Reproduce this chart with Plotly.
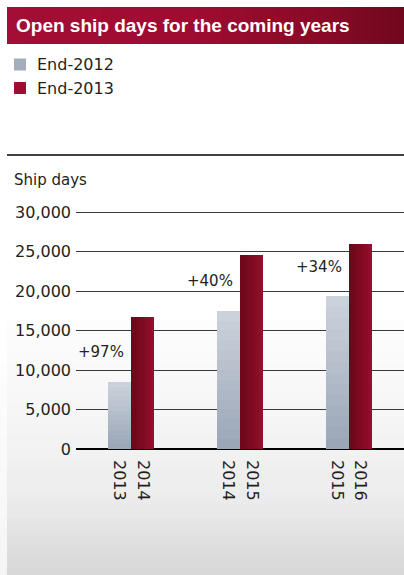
import plotly.graph_objects as go

# ---- data -------------------------------------------------------------
series_names = ["End-2012", "End-2013"]
years_end2012 = ["2013", "2014", "2015"]
years_end2013 = ["2014", "2015", "2016"]
open_days_end2012 = [8500, 17500, 19300]
open_days_end2013 = [16750, 24500, 25900]
y_ticks = [0, 5000, 10000, 15000, 20000, 25000, 30000]

title_text = "Open ship days for the coming years"
axis_title = "Ship days"

# ---- geometry / style -------------------------------------------------
W, H = 404, 575
BAR_W = 0.215
groups = list(range(len(open_days_end2012)))
TEXT = "#231f20"
FONT = "DejaVu Sans"


def px_x(p):
    return p / W


def px_y(p):
    return 1 - p / H


def lerp_color(stops, t):
    for (t0, c0), (t1, c1) in zip(stops, stops[1:]):
        if t <= t1:
            f = 0 if t1 == t0 else (t - t0) / (t1 - t0)
            c = [round(a + (b - a) * f) for a, b in zip(c0, c1)]
            return "rgb({},{},{})".format(*c)
    return "rgb({},{},{})".format(*stops[-1][1])


grey_stops = [(0, (155, 167, 183)), (1, (207, 213, 222))]      # bottom -> top
crimson_stops = [(0, (108, 8, 26)), (0.5, (128, 10, 34)), (1, (158, 14, 50))]  # left -> right

fig = go.Figure()

# End-2012 bars: vertical gradient, darker at the base
N = 14
for k in range(N):
    frac = k / N
    fig.add_trace(go.Bar(
        x=groups,
        y=[v * (1 - frac) for v in open_days_end2012],
        base=[v * frac for v in open_days_end2012],
        offset=-BAR_W, width=BAR_W,
        marker=dict(color=lerp_color(grey_stops, frac), line=dict(width=0)),
        showlegend=False, hoverinfo="skip",
    ))

# End-2013 bars: horizontal gradient, darker on the left
M = 10
for j in range(M):
    frac = j / M
    fig.add_trace(go.Bar(
        x=groups,
        y=open_days_end2013,
        offset=BAR_W * frac, width=BAR_W * (1 - frac),
        marker=dict(color=lerp_color(crimson_stops, frac), line=dict(width=0)),
        showlegend=False, hoverinfo="skip",
    ))

# growth labels
annotations = []
for g, a, b in zip(groups, open_days_end2012, open_days_end2013):
    pct = round((b / a - 1) * 100)
    annotations.append(dict(
        x=g - 0.05, y=a + 3800, xref="x", yref="y",
        text=f"+{pct}%", showarrow=False, xanchor="right", yanchor="middle",
        font=dict(family=FONT, size=15, color=TEXT),
    ))

# title
annotations.append(dict(
    x=px_x(14), y=px_y(25.5), xref="paper", yref="paper", text=title_text,
    showarrow=False, xanchor="left", yanchor="middle",
    font=dict(family="Liberation Sans", size=19, color="white", weight="bold"),
))

# legend entries
legend_colors = ["#a3adbc", "#a00d33"]
legend_rows = [64.5, 88]
shapes = []
for name, col, yc in zip(series_names, legend_colors, legend_rows):
    shapes.append(dict(type="rect", xref="paper", yref="paper",
                       x0=px_x(14), x1=px_x(26), y0=px_y(yc - 6), y1=px_y(yc + 6),
                       fillcolor=col, line=dict(width=0), layer="above"))
    annotations.append(dict(
        x=px_x(35), y=px_y(yc), xref="paper", yref="paper", text=name,
        showarrow=False, xanchor="left", yanchor="middle",
        font=dict(family=FONT, size=16, color=TEXT),
    ))

# axis title
annotations.append(dict(
    x=px_x(12), y=px_y(180), xref="paper", yref="paper", text=axis_title,
    showarrow=False, xanchor="left", yanchor="middle",
    font=dict(family=FONT, size=15, color=TEXT),
))

# title band gradient
title_stops = [(0, (164, 13, 53)), (0.45, (158, 12, 50)), (0.8, (136, 10, 38)), (1, (110, 8, 28))]
x_left, x_right = 7, W
NT = 50
for i in range(NT):
    t = i / NT
    x0 = x_left + (x_right - x_left) * t
    shapes.append(dict(type="rect", xref="paper", yref="paper",
                       x0=px_x(x0), x1=px_x(x_right), y0=px_y(44), y1=px_y(7),
                       fillcolor=lerp_color(title_stops, t), line=dict(width=0),
                       layer="below"))

# separator rule under the legend
shapes.append(dict(type="line", xref="paper", yref="paper",
                   x0=px_x(7), x1=1, y0=px_y(155), y1=px_y(155),
                   line=dict(color="black", width=1.3), layer="below"))

# soft grey panel behind the lower part of the chart
panel_stops = [(0, (253, 253, 253)), (0.47, (243, 243, 243)), (0.7, (235, 235, 235)), (1, (214, 214, 214))]
strip_stops = [(0, (255, 255, 255)), (1, (245, 245, 245))]
p_top, p_bot = 320, H
NP = 40
for i in range(NP):
    t = i / NP
    y0 = p_top + (p_bot - p_top) * t
    shapes.append(dict(type="rect", xref="paper", yref="paper",
                       x0=px_x(7), x1=1, y0=0, y1=px_y(y0),
                       fillcolor=lerp_color(panel_stops, t), line=dict(width=0),
                       layer="below"))
    shapes.append(dict(type="rect", xref="paper", yref="paper",
                       x0=0, x1=px_x(7), y0=0, y1=px_y(y0),
                       fillcolor=lerp_color(strip_stops, t), line=dict(width=0),
                       layer="below"))

# axes
y_px_per_unit = (449 - 212) / 30000
y_max = 30500
y_top_px = 449 - y_max * y_px_per_unit

tick_positions = []
tick_text = []
for g, a, b in zip(groups, years_end2012, years_end2013):
    tick_positions += [g - BAR_W / 2, g + BAR_W / 2]
    tick_text += [a, b]

fig.update_layout(
    width=W, height=H,
    margin=dict(l=0, r=0, t=0, b=0, pad=0, autoexpand=False),
    paper_bgcolor="white", plot_bgcolor="rgba(0,0,0,0)",
    barmode="overlay", bargap=0,
    showlegend=False,
    annotations=annotations,
    shapes=shapes,
    xaxis=dict(
        domain=[px_x(76), 1], range=[-0.505, 2.505],
        tickmode="array", tickvals=tick_positions, ticktext=tick_text,
        tickangle=90, showgrid=False, zeroline=False, showline=False,
        ticks="", ticklabelstandoff=10, automargin=False,
        tickfont=dict(family=FONT, size=16, color=TEXT),
        fixedrange=True,
    ),
    yaxis=dict(
        domain=[px_y(449), px_y(y_top_px)], range=[0, y_max],
        tickmode="array", tickvals=y_ticks, tickformat=",",
        showgrid=True, gridcolor="#3a3a3a", gridwidth=1,
        zeroline=True, zerolinecolor="black", zerolinewidth=1.6,
        showline=False, ticks="", ticklabelstandoff=4, automargin=False,
        tickfont=dict(family=FONT, size=16, color=TEXT),
        fixedrange=True,
    ),
)

fig.write_html("out.html", config={"displayModeBar": False})
